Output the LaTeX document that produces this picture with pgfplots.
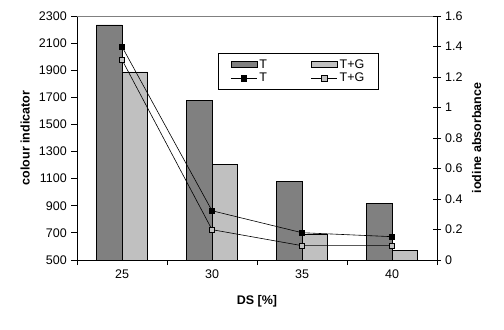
\documentclass[border=0pt]{standalone}
\usepackage{pgfplots}
\pgfplotsset{compat=1.18}
\usepackage{fontspec}
\setmainfont{Liberation Sans}
\definecolor{barT}{HTML}{808080}
\definecolor{barTG}{HTML}{C0C0C0}
\pgfplotsset{
  lineleg/.style={legend image code/.code={\draw[##1, mark=none] (0bp,0bp) -- (26bp,0bp); \draw[##1] plot coordinates {(13bp,0bp)};}},
  barlegT/.style={legend image code/.code={\draw[draw=black, line width=0.8bp, fill=barT] (0bp,-3bp) rectangle (26bp,3bp);}},
  barlegTG/.style={legend image code/.code={\draw[draw=black, line width=0.8bp, fill=barTG] (0bp,-3bp) rectangle (26bp,3bp);}},
}
\begin{document}
\fontsize{12bp}{14bp}\selectfont
\begin{tikzpicture}[x=1bp,y=1bp]
\useasboundingbox (0,0) rectangle (504,329);
\begin{axis}[
  at={(77bp,69bp)}, anchor=south west,
  width=360bp, height=244bp, scale only axis,
  xmin=-0.5, xmax=3.5, ymin=500, ymax=2300,
  axis x line*=bottom, axis y line*=left,
  axis line style={line width=0.8bp, -},
  xtick={0,1,2,3}, xticklabels={25,30,35,40},
  major x tick style={draw=none},
  minor xtick={-0.5,0.5,1.5,2.5,3.5},
  minor x tick style={black, line width=0.8bp},
  minor tick length=5bp,
  ytick={500,700,...,2300},
  major tick length=6bp,
  tick align=outside,
  y tick style={black, line width=0.8bp},
  /pgf/number format/assume math mode=true,
  /pgf/number format/1000 sep={},
  ticklabel style={font=\fontsize{12.5bp}{14bp}\selectfont},
  xlabel={DS [\%]}, ylabel={colour indicator},
  label style={font=\fontsize{12.5bp}{14bp}\selectfont\bfseries},
  xlabel style={at={(axis description cs:0.5,-0.171)}, anchor=center},
  ylabel style={at={(axis description cs:-0.144,0.5)}, anchor=center},
  every axis plot/.append style={draw=black, line width=0.8bp},
  after end axis/.code={\draw[color=barT, line width=0.8bp] (rel axis cs:0,1) -- (rel axis cs:1,1);},
]
\addplot[ybar, bar width=0.285, bar shift=-0.1425, fill=barT] coordinates {(0,2234) (1,1680) (2,1082) (3,918)};
\addplot[ybar, bar width=0.285, bar shift=0.1425, fill=barTG] coordinates {(0,1887) (1,1206) (2,690) (3,572)};
\end{axis}
\begin{axis}[
  at={(77bp,69bp)}, anchor=south west,
  width=360bp, height=244bp, scale only axis,
  xmin=-0.5, xmax=3.5, ymin=0, ymax=1.6,
  axis x line=none, axis y line*=right,
  axis line style={line width=0.8bp, -},
  ytick={0,0.2,...,1.6},
  yticklabels={0,0.2,0.4,0.6,0.8,1,1.2,1.4,1.6},
  tick align=center, major tick length=8bp,
  y tick style={black, line width=0.8bp},
  ticklabel style={font=\fontsize{12.5bp}{14bp}\selectfont},
  ylabel={iodine absorbance},
  label style={font=\fontsize{12.5bp}{14bp}\selectfont\bfseries},
  ylabel style={at={(axis description cs:1.110,0.5)}, anchor=center, rotate=0},
  legend columns=2,
  legend style={at={(axis description cs:0.392,0.848)}, anchor=north west,
    draw=black, line width=0.8bp, fill=white, inner xsep=12bp, inner ysep=4bp,
    font=\fontsize{12.5bp}{12.5bp}\selectfont, row sep=-1bp,
    /tikz/every even column/.append style={column sep=42bp}},
  legend cell align=left,
]
\addlegendimage{barlegT}
\addlegendentry{T}
\addlegendimage{barlegTG}
\addlegendentry{T+G}
\addplot[black, line width=0.6bp, mark=square*, mark size=2.7bp, mark options={fill=black, line width=0.6bp}, lineleg]
  coordinates {(0,1.399) (1,0.323) (2,0.179) (3,0.153)};
\addlegendentry{T}
\addplot[black, line width=0.6bp, mark=square*, mark size=2.7bp, mark options={fill=barTG, line width=0.6bp}, lineleg]
  coordinates {(0,1.313) (1,0.199) (2,0.094) (3,0.094)};
\addlegendentry{T+G}
\end{axis}
\end{tikzpicture}
\end{document}
